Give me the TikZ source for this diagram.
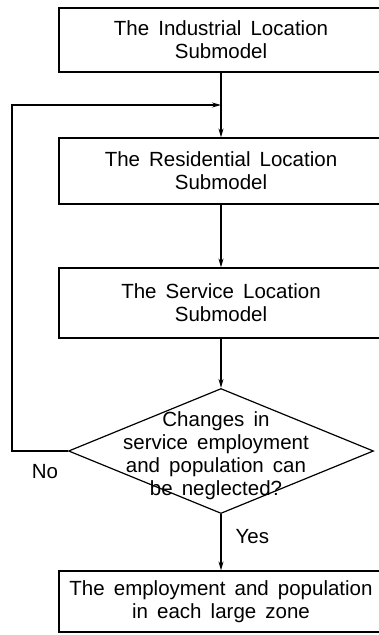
\documentclass[tikz,border=0pt]{standalone}
\usepackage{fontspec}
\setmainfont{Liberation Sans}[WordSpace=1.6]
\usetikzlibrary{shapes.geometric,arrows.meta}
\tikzset{
  box/.style={draw,minimum width=324pt,inner sep=0pt,align=center,font=\fontsize{20.5}{23}\selectfont},
  txt/.style={inner sep=0pt,align=center,font=\fontsize{20.5}{23}\selectfont},
  arr/.style={-{Stealth[length=9pt,width=5pt]}}
}
\begin{document}
\begin{tikzpicture}[x=1pt,y=-1pt,line width=1.2pt]
\useasboundingbox (0,0) rectangle (378,635);
\node[box,minimum height=64pt] (ind) at (221,40) {The Industrial Location\\Submodel};
\node[box,minimum height=66pt] (res) at (221,171) {The Residential Location\\Submodel};
\node[box,minimum height=70pt] (ser) at (221,303) {The Service Location\\Submodel};
\node[diamond,draw,minimum width=305pt,minimum height=125pt,inner sep=0pt] (chk) at (221,451) {};
\node[txt] (chktext) at (216,456) {Changes in\\service employment\\and population can\\be neglected?};
\node[box,minimum height=61pt] (out) at (221,601.5) {The employment and population\\in each large zone};
\coordinate (join) at (221,105);
\coordinate (back) at (12,105);
% connectors
\draw (ind) -- (join);
\draw[arr] (join) -- (res);
\draw[arr] (res) -- (ser);
\draw[arr] (ser) -- (chk);
\draw[arr] (chk) -- node[txt,pos=0.4,right=14pt] (yes) {Yes} (out);
\draw[arr] (chk.west) -| (back) -- (join);
\node[txt] (no) at (45,472) {No};
\end{tikzpicture}
\end{document}
